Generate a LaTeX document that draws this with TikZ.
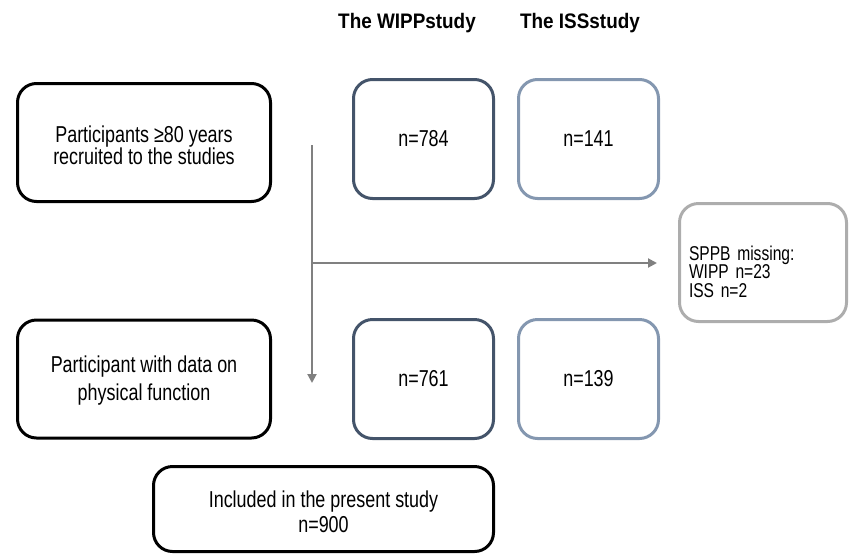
\documentclass[tikz,border=0pt]{standalone}
\usepackage{fontspec}
\setmainfont{Liberation Sans}[FakeStretch=0.78]
\newfontfamily\headfont{Liberation Sans}[FakeStretch=0.9]
\usepackage{tikz}
\usetikzlibrary{positioning,arrows.meta}
\definecolor{wippcol}{HTML}{44546A}
\definecolor{isscol}{HTML}{8497B0}
\definecolor{misscol}{HTML}{ADADAD}
\definecolor{flowcol}{HTML}{808080}
\setlength{\lineskiplimit}{-20pt}
\setlength{\normallineskiplimit}{-20pt}

\begin{document}
\begin{tikzpicture}[x=1pt, y=-1pt,
    box/.style={draw, line width=3pt, rounded corners=19pt, align=center,
      font=\fontsize{23}{23}\selectfont},
    mainbox/.style={box, draw=black, minimum width=253pt, minimum height=118pt},
    wippbox/.style={box, draw=wippcol, minimum width=140pt, minimum height=119pt},
    issbox/.style={box, draw=isscol, minimum width=140pt, minimum height=119pt},
    missbox/.style={box, draw=misscol, minimum width=167pt, minimum height=118pt,
      text width=148pt, align=left, text height=0pt, text depth=5pt,
      font=\fontsize{20}{18.5}\selectfont},
    title/.style={anchor=base, font=\headfont\bfseries\fontsize{21}{21}\selectfont},
    flow/.style={draw=flowcol, line width=2pt, -{Triangle[length=9pt, width=9pt]}}]
      \useasboundingbox (0,0) rectangle (849,555);
        \node [title] (wipptitle) at (407,28) {The WIPPstudy};
        \node [title] (isstitle) at (580,28) {The ISSstudy};
        \node [mainbox, font=\fontsize{23}{22}\selectfont,
          text height=43pt, text depth=0pt] (recruited) at (144,142.5)
          {Participants ≥80 years\\recruited to the studies};
        \node [mainbox, font=\fontsize{23}{28}\selectfont, text height=42pt, text depth=0pt,
          below=115.5pt of recruited] (physfunc)
          {Participant with data on\\physical function};
        \node [wippbox] (wipp1) at (423.5,139) {n=784};
        \node [issbox, right=22pt of wipp1] (iss1) {n=141};
        \node [wippbox, below=118pt of wipp1] (wipp2) {n=761};
        \node [issbox, right=22pt of wipp2] (iss2) {n=139};
        \node [missbox] (missing) at (763,262.5)
          {SPPB missing:\\WIPP n=23\\ISS n=2};
        \node [box, draw=black, minimum width=340pt, minimum height=85pt,
          font=\fontsize{23}{25}\selectfont,
          text height=46pt, text depth=0pt] (included) at (323.5,509)
          {Included in the present study\\n=900};
        \coordinate (vtop) at (312,145);
        \coordinate (vbot) at (312,383);
        \coordinate (split) at (312,263);
        \draw [flow] (vtop) -- (vbot);
        \draw [flow] (split) -- ([xshift=-21pt]missing.west |- split);
    \end{tikzpicture}
\end{document}
